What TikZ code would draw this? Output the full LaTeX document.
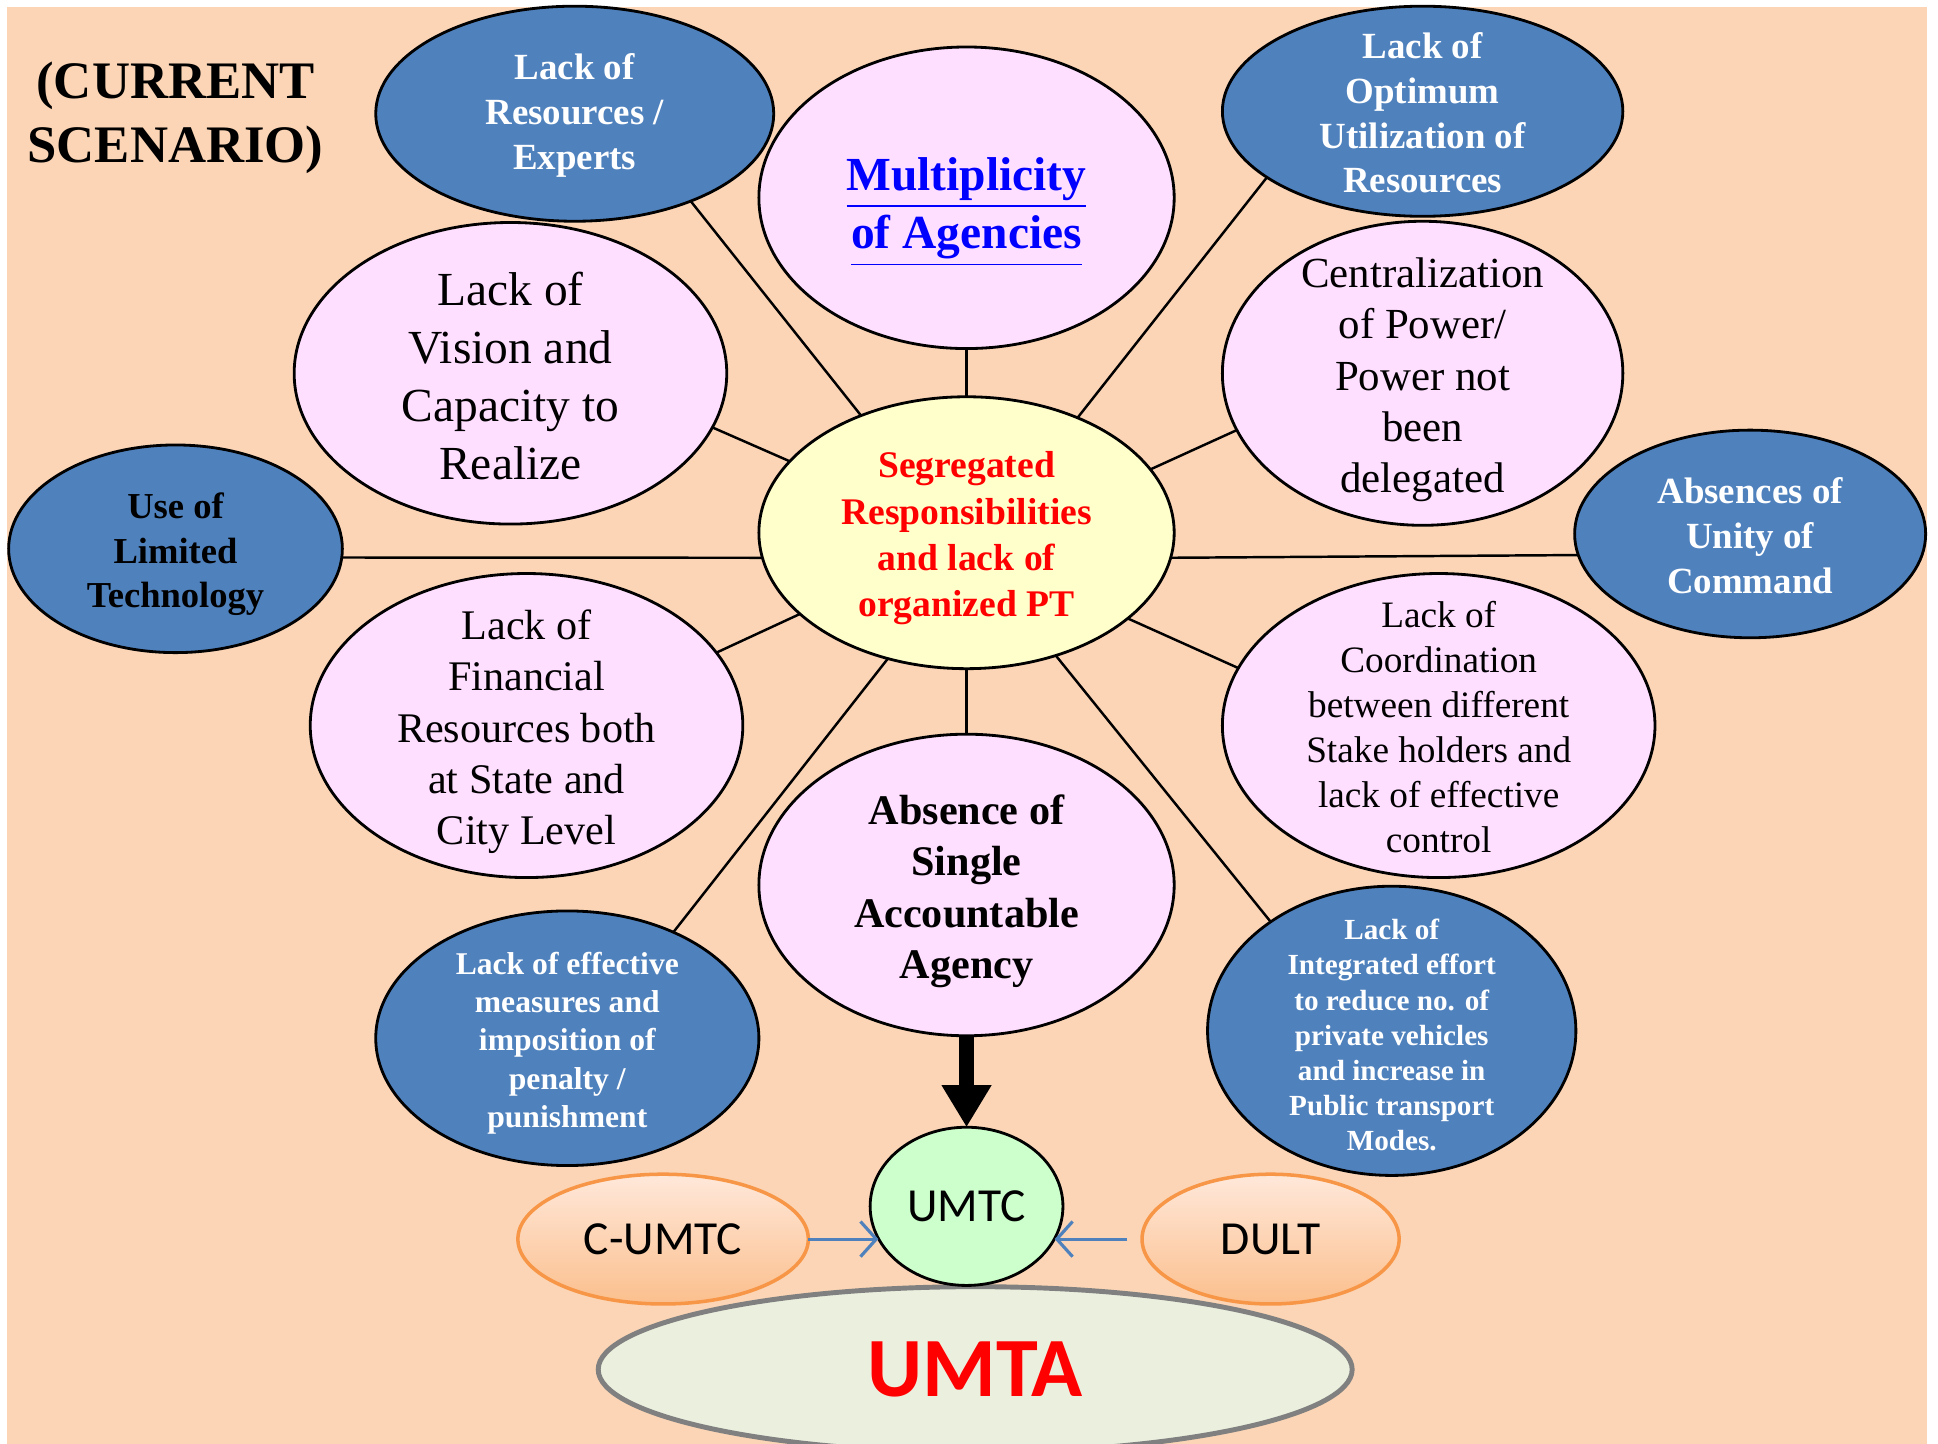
\documentclass[tikz,border=0pt]{standalone}
\usepackage{fontspec}
\setmainfont{Liberation Serif}
\newfontfamily\calibrifont{Carlito}
\usetikzlibrary{arrows.meta, shapes.geometric}
\definecolor{peach}{RGB}{251,213,181}
\definecolor{pinkfill}{RGB}{255,223,255}
\definecolor{bluefill}{RGB}{79,129,189}
\definecolor{yellowfill}{RGB}{255,255,204}
\definecolor{greenfill}{RGB}{204,255,204}
\definecolor{orangeline}{RGB}{247,150,70}
\definecolor{orangetop}{RGB}{255,232,218}
\definecolor{orangebottom}{RGB}{251,191,141}
\definecolor{umtafill}{RGB}{235,240,222}
\definecolor{umtaline}{RGB}{128,128,128}
\definecolor{linkblue}{RGB}{0,0,255}
\definecolor{arrowblue}{RGB}{79,129,189}
\newcommand{\lift}[1][1]{\rule{0pt}{#1em}}

\begin{document}
\begin{tikzpicture}[x=0.01236cm, y=-0.01236cm,
  ellsize/.style 2 args={minimum width=2*#1*0.01236cm, minimum height=2*#2*0.01236cm},
  bubble/.style={ellipse, draw=black, line width=0.8pt, inner sep=-30pt, outer sep=0pt, align=center},
  pinkbub/.style={bubble, fill=pinkfill},
  bluebub/.style={bubble, fill=bluefill, text=white},
  orangebub/.style={bubble, draw=orangeline, line width=1pt, top color=orangetop, bottom color=orangebottom,
    font=\calibrifont\fontsize{13.5pt}{16pt}\selectfont},
  spoke/.style={line width=0.7pt},
  feed/.style={draw=arrowblue, line width=0.9pt, -{Straight Barb[length=4.5pt, width=10pt]}},
  bigarrow/.style={line width=4.5pt, -{Triangle[width=13.4pt, length=12pt]}}]
\useasboundingbox (0,0) rectangle (1568,1168);
\clip (0,0) rectangle (1568,1168);
\fill[white] (0,0) rectangle (1568,1168);
\fill[peach] (5.5,5.5) rectangle (1559,1168);
\path
(142,89) node[align=center, font=\fontsize{15pt}{18.3pt}\selectfont\bfseries] (title) {\lift(CURRENT\\SCENARIO)};
\path
(782,431) node[bubble, fill=yellowfill, ellsize={168}{110}, text=red,
  font=\fontsize{10.7pt}{13.2pt}\selectfont\bfseries] (hub)
  {\lift Segregated\\Responsibilities\\and lack of\\organized PT};
\path
(782,160) node[pinkbub, ellsize={168}{122}, text=linkblue, font=\fontsize{13.5pt}{16.5pt}\selectfont\bfseries] (multi)
  {\lift[1.3]\underline{Multiplicity}\\\underline{of Agencies}};
\path
(465,92) node[bluebub, ellsize={161}{87}, font=\fontsize{10.5pt}{12.7pt}\selectfont\bfseries] (experts)
  {\lift[0.8]Lack of\\Resources /\\Experts};
\path
(1151,90) node[bluebub, ellsize={162}{85}, font=\fontsize{10.5pt}{12.7pt}\selectfont\bfseries] (optimum)
  {\lift[0.8]Lack of\\Optimum\\Utilization of\\Resources};
\path
(413,302) node[pinkbub, ellsize={175}{122}, font=\fontsize{13.5pt}{16.5pt}\selectfont] (vision)
  {\lift[0.8]Lack of\\Vision and\\Capacity to\\Realize};
\path
(1151,302) node[pinkbub, ellsize={162}{123}, font=\fontsize{12.2pt}{14.6pt}\selectfont] (power)
  {\lift Centralization\\of Power/\\Power not\\been\\delegated};
\path
(142,444) node[bluebub, text=black, ellsize={135}{84}, font=\fontsize{10.4pt}{12.7pt}\selectfont\bfseries] (tech)
  {\lift Use of\\Limited\\Technology};
\path
(1416,432) node[bluebub, ellsize={142}{84}, font=\fontsize{10.5pt}{12.7pt}\selectfont\bfseries] (unity)
  {\lift[0.8]Absences of\\Unity of\\Command};
\path
(426,587) node[pinkbub, ellsize={175}{123}, font=\fontsize{12pt}{14.6pt}\selectfont] (finance)
  {\lift Lack of\\Financial\\Resources both\\at State and\\City Level};
\path
(1164,587) node[pinkbub, ellsize={175}{123}, font=\fontsize{10.6pt}{12.8pt}\selectfont] (coord)
  {\lift[0.8]Lack of\\Coordination\\between different\\Stake holders and\\lack of effective\\control};
\path
(782,716) node[pinkbub, ellsize={168}{122}, font=\fontsize{12pt}{14.6pt}\selectfont\bfseries] (single)
  {\lift Absence of\\Single\\Accountable\\Agency};
\path
(459,840) node[bluebub, ellsize={155}{103}, font=\fontsize{9pt}{10.9pt}\selectfont\bfseries] (penalty)
  {\lift Lack of effective\\measures and\\imposition of\\penalty /\\punishment};
\path
(1126,834) node[bluebub, ellsize={149}{117}, font=\fontsize{8.3pt}{10pt}\selectfont\bfseries] (vehicles)
  {\lift Lack of\\Integrated effort\\to reduce no. of\\private vehicles\\and increase in\\Public transport\\Modes.};
\path
(789,1108) node[bubble, fill=umtafill, draw=umtaline, line width=1.4pt, ellsize={305}{67}, text=red,
  font=\calibrifont\fontsize{24pt}{28pt}\selectfont\bfseries] (umta) {UMTA};
\path
(782,976) node[bubble, fill=greenfill, ellsize={78}{64}, font=\calibrifont\fontsize{13.5pt}{16pt}\selectfont] (umtc) {UMTC};
\path
(536.5,1002.5) node[orangebub, ellsize={117.5}{52.5}] (cumtc) {C-UMTC};
\path
(1028,1002.5) node[orangebub, ellsize={104}{52.5}] (dult) {DULT};
\foreach \a/\n/\b in {90/multi/-90, 132/experts/-37, 46/optimum/203, 158.5/vision/-15.6,
  19.5/power/197.3, 187/tech/-3, -7/unity/187.8, 206.7/finance/21.8, -28/coord/164,
  -90/single/90, 238/penalty/45.3, -54.7/vehicles/138.3}
  \draw[spoke] (hub.\a) -- (\n.\b);
\draw[bigarrow] (single.south) -- (umtc.north);
\draw[feed] (cumtc.east) -- (cumtc.east -| umtc.200);
\draw[feed, shorten <=4.2pt] (dult.west) -- (dult.west -| umtc.-20);
\end{tikzpicture}
\end{document}
